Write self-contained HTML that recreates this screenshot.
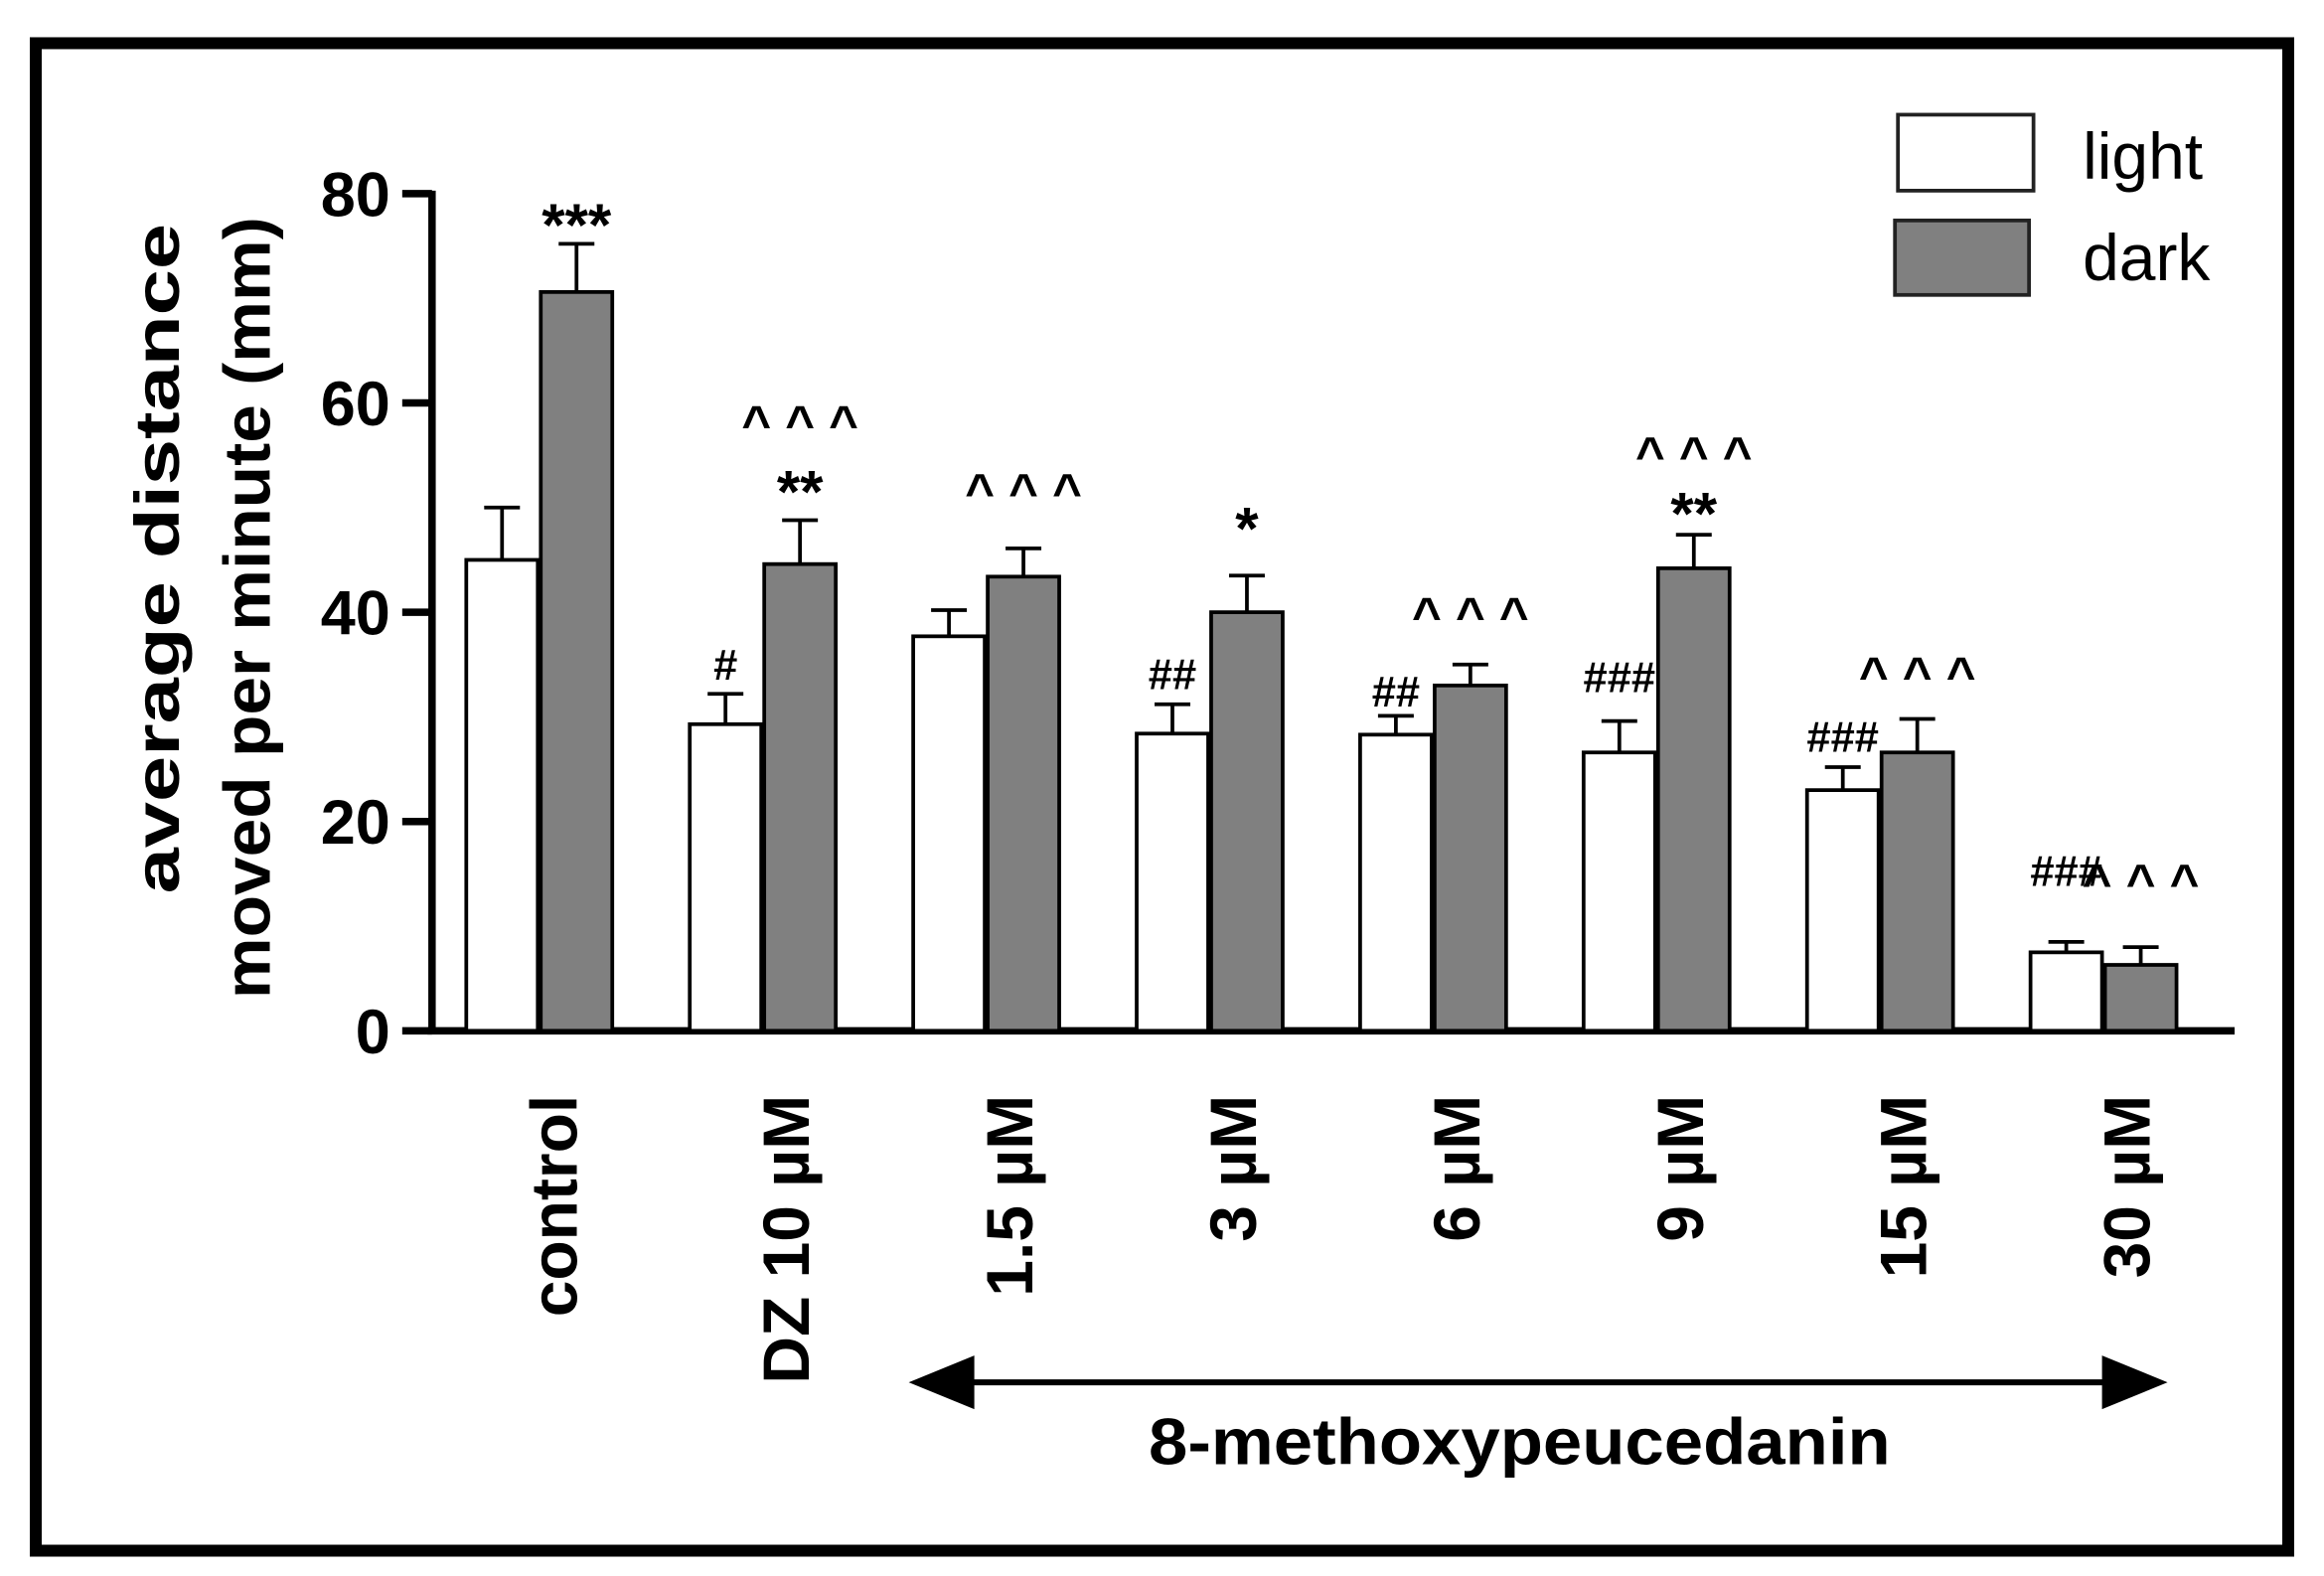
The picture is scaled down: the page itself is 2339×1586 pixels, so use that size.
<!DOCTYPE html>
<html><head><meta charset="utf-8"><style>
html,body{margin:0;padding:0;background:#fff;}
svg{display:block;font-family:"Liberation Sans",Arial,sans-serif;}
</style></head><body>
<svg id="chart" width="2339" height="1586" viewBox="0 0 1560 1058" preserveAspectRatio="none" xmlns="http://www.w3.org/2000/svg">
<rect x="24" y="29" width="1512" height="1012" fill="#fff" stroke="#000" stroke-width="8"/>
<g id="plot"></g>
<g>
<rect x="1274" y="77" width="91" height="51" fill="#fff" stroke="#222" stroke-width="2.5"/>
<text x="1398" y="120" font-size="44">light</text>
<rect x="1272" y="148" width="90" height="50" fill="#808080" stroke="#222" stroke-width="2.5"/>
<text x="1398" y="188" font-size="44">dark</text>
</g>
<g font-weight="bold" text-anchor="middle">
<text transform="translate(120,375) rotate(-90)" font-size="42" textLength="450" lengthAdjust="spacingAndGlyphs">average distance</text>
<text transform="translate(181,408) rotate(-90)" font-size="44" textLength="525" lengthAdjust="spacingAndGlyphs">moved per minute (mm)</text>
</g>
<g>
<line x1="640" y1="928" x2="1420" y2="928" stroke="#000" stroke-width="4"/>
<polygon points="610,928 654,910 654,946" fill="#000"/>
<polygon points="1455,928 1411,910 1411,946" fill="#000"/>
</g>
<text x="1020" y="983" font-size="44" font-weight="bold" text-anchor="middle" textLength="498" lengthAdjust="spacingAndGlyphs">8-methoxypeucedanin</text>
</svg>
<script>
const categories = ["control","DZ 10 µM","1.5 µM","3 µM","6 µM","9 µM","15 µM","30 µM"];
const lightValues = [45, 29.3, 37.7, 28.4, 28.3, 26.6, 23, 7.5];
const lightErrors = [5, 2.9, 2.5, 2.8, 1.8, 3.0, 2.2, 1.0];
const darkValues = [70.6, 44.6, 43.4, 40, 33, 44.2, 26.6, 6.3];
const darkErrors = [4.6, 4.2, 2.7, 3.5, 2.0, 3.2, 3.2, 1.7];
const yTicks = [0, 20, 40, 60, 80];
const lightMarks = ["", "#", "", "##", "##", "###", "###", "###"];
const lightMarkY = [0, 34.9, 0, 34, 32.3, 33.7, 28, 15.2];
const darkMarks = ["***", "**", "", "*", "", "**", "", ""];
const darkMarkY = [77, 51.5, 0, 48, 0, 49.4, 0, 0];
const caretMarks = ["", "^^^", "^^^", "", "^^^", "^^^", "^^^", "^^^"];
const caretY = [0, 58, 51.5, 0, 39.7, 55, 34, 14.2];

const NS = "http://www.w3.org/2000/svg";
const g = document.getElementById("plot");
const y = v => 692 - v * (562 / 80);
const gx = i => 313 + i * 150;
const BW = 48;
function mk(tag, attrs, parent) {
  const e = document.createElementNS(NS, tag);
  for (const k in attrs) e.setAttribute(k, attrs[k]);
  (parent || g).appendChild(e);
  return e;
}
const ax = mk("line", {x1: 290, y1: y(80) - 2, x2: 290, y2: y(0) + 2, stroke: "#000", "stroke-width": 5});


const xa = mk("line", {x1: 287, y1: y(0), x2: 1500, y2: y(0), stroke: "#000", "stroke-width": 5});


yTicks.forEach(t => {
  const l = mk("line", {x1: 270, y1: y(t), x2: 290, y2: y(t), stroke: "#000", "stroke-width": 5});
  
  
  const tx = mk("text", {x: 262, y: y(t) + 15, "font-size": 42, "font-weight": "bold", "text-anchor": "end"});
  tx.textContent = t;
  
  
});
function bar(x, v, err, fill, name) {
  const top = y(v + err);
  const el = mk("line", {x1: x + BW / 2, y1: top, x2: x + BW / 2, y2: y(v), stroke: "#000", "stroke-width": 2.5});
  
  
  const cap = mk("line", {x1: x + BW / 2 - 12, y1: top, x2: x + BW / 2 + 12, y2: top, stroke: "#000", "stroke-width": 2.5});
  
  
  const r = mk("rect", {x: x, y: y(v), width: BW, height: y(0) - y(v), fill: fill, stroke: "#000", "stroke-width": 2.5});
  
  
}
function label(x, v, txt, size, name) {
  if (!txt) return;
  const t = mk("text", {x: x, y: y(v), "font-size": size, "font-weight": "bold", "text-anchor": "middle", "dominant-baseline": "central"});
  t.textContent = txt;
  
  
}
categories.forEach((c, i) => {
  const x = gx(i);
  bar(x, lightValues[i], lightErrors[i], "#fff", "bar-light-" + i);
  bar(x + 50, darkValues[i], darkErrors[i], "#808080", "bar-dark-" + i);
  label(x + 24, lightMarkY[i], lightMarks[i], 29, "light-significance");
  label(x + 74, darkMarkY[i], darkMarks[i], 40, "dark-significance");
  label(x + 74, caretY[i], caretMarks[i].split("").join(" "), 34, "caret-significance");
  const lx = x + 60 + (i > 0 ? 6 : 0);
  const t = mk("text", {transform: "translate(" + (lx + 14) + ",735) rotate(-90)", "font-size": 44, "font-weight": "bold", "text-anchor": "end"});
  t.textContent = c;
  
  
});
</script>
</body></html>
